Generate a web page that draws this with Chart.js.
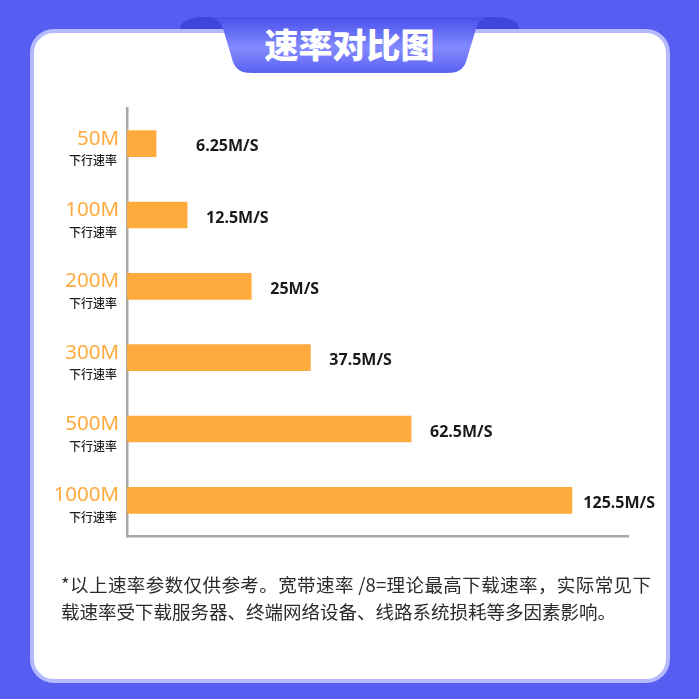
<!DOCTYPE html>
<html lang="zh">
<head>
<meta charset="utf-8">
<title>速率对比图</title>
<script src="https://cdn.jsdelivr.net/npm/chart.js@4/dist/chart.umd.min.js"></script>
<style>
  html, body { margin: 0; padding: 0; }
  body {
    width: 699px; height: 699px; position: relative; overflow: hidden;
    background: #565ef1;
    font-family: 'Noto Sans CJK SC', 'Noto Sans', sans-serif;
  }
  .card {
    position: absolute; left: 30px; top: 29px; width: 640px; height: 654px;
    box-sizing: border-box; border: 4px solid #b5baff; border-radius: 24px; background: #fff;
  }
  .tab { position: absolute; left: 0; top: 0; }
  .title {
    position: absolute; left: 0; top: 22px; width: 699px; height: 44px; line-height: 44px;
    text-align: center; color: #fff; font-size: 34px; font-weight: 900;
  }
  .note {
    position: absolute; left: 61px; top: 571px; width: 590px;
    font-size: 18.5px; line-height: 27px; color: #2b2b2b; text-align: justify;
  }
  #rateChart { position: absolute; left: 0; top: 0; }
</style>
</head>
<body>
<div class="card"></div>
<svg class="tab" width="699" height="80">
  <defs>
    <linearGradient id="tabFill" x1="0" y1="0" x2="0" y2="1">
      <stop offset="0" stop-color="#4950ec"/>
      <stop offset="0.55" stop-color="#838bff"/>
      <stop offset="1" stop-color="#5a61f3"/>
    </linearGradient>
  </defs>
  <path d="M180 29 C180 21 190 17 205 17 L494 17 C509 17 519 21 519 29 Z" fill="#3e44dc"/>
  <path d="M208 17 C218 17 222 24 224 32 L233 62 C236 70 242 73 252 73 L447 73 C457 73 463 70 466 62 L475 32 C477 24 481 17 491 17 Z" fill="url(#tabFill)"/>
</svg>
<div class="title">速率对比图</div>
<canvas id="rateChart" width="699" height="699"></canvas>
<div class="note">*以上速率参数仅供参考。宽带速率 /8=理论最高下载速率，实际常见下载速率受下载服务器、终端网络设备、线路系统损耗等多因素影响。</div>

<script>
const bandwidths = ['50M', '100M', '200M', '300M', '500M', '1000M']
const subLabel = '下行速率'
const rateLabels = ['6.25M/S', '12.5M/S', '25M/S', '37.5M/S', '62.5M/S', '125.5M/S']
// bar lengths as drawn in the picture (axis 0-100); the two long bars are shortened in the design
const barLengths = [5.8, 12.0, 24.8, 36.6, 56.7, 88.8]
const xMax = 100

const ORANGE = '#ffaa3d'
const AXIS = '#a8a8a8'

// orange bandwidth + small "下行速率" under it, left of the axis
const bandLabels = {
  id: 'bandLabels',
  afterDraw(chart) {
    const { ctx, chartArea, scales } = chart
    ctx.save()
    ctx.textAlign = 'right'
    ctx.textBaseline = 'middle'
    bandwidths.forEach((band, i) => {
      const py = scales.y.getPixelForValue(i)
      ctx.fillStyle = ORANGE
      ctx.font = '20.5px "Noto Sans"'
      ctx.fillText(band, chartArea.left - 8, py - 5)
      ctx.fillStyle = '#1e1e1e'
      ctx.font = '500 12px "Noto Sans CJK SC"'
      ctx.fillText(subLabel, chartArea.left - 10, py + 17)
    })
    ctx.restore()
  },
}

// speed text to the right of each bar
const rateValueLabels = {
  id: 'rateValueLabels',
  afterDatasetsDraw(chart) {
    const { ctx, chartArea } = chart
    const bars = chart.getDatasetMeta(0).data
    ctx.save()
    ctx.font = 'bold 16px "Noto Sans"'
    ctx.fillStyle = '#1a1a1a'
    ctx.textBaseline = 'middle'
    bars.forEach((bar, i) => {
      const text = rateLabels[i]
      const w = ctx.measureText(text).width
      let x = Math.max(chartArea.left + 69, bar.x + 19)
      x = Math.min(x, chartArea.right + 27 - w)
      ctx.fillText(text, x, bar.y + 3)
    })
    ctx.restore()
  },
}

new Chart(document.getElementById('rateChart'), {
  type: 'bar',
  data: {
    labels: bandwidths,
    datasets: [
      {
        data: barLengths,
        backgroundColor: ORANGE,
        barThickness: 26,
      },
    ],
  },
  options: {
    indexAxis: 'y',
    responsive: false,
    animation: false,
    layout: { padding: { left: 127, right: 71, top: 108, bottom: 163 } },
    plugins: { legend: { display: false }, tooltip: { enabled: false } },
    scales: {
      x: {
        min: 0,
        max: xMax,
        grid: { display: false, drawTicks: false },
        ticks: { display: false },
        border: { color: AXIS, width: 2.5 },
        afterFit(s) { s.height = 0 },
      },
      y: {
        grid: { display: false, drawTicks: false },
        ticks: { display: false },
        border: { color: AXIS, width: 2.5 },
        afterFit(s) { s.width = 0 },
      },
    },
  },
  plugins: [bandLabels, rateValueLabels],
})
</script>
</body>
</html>
